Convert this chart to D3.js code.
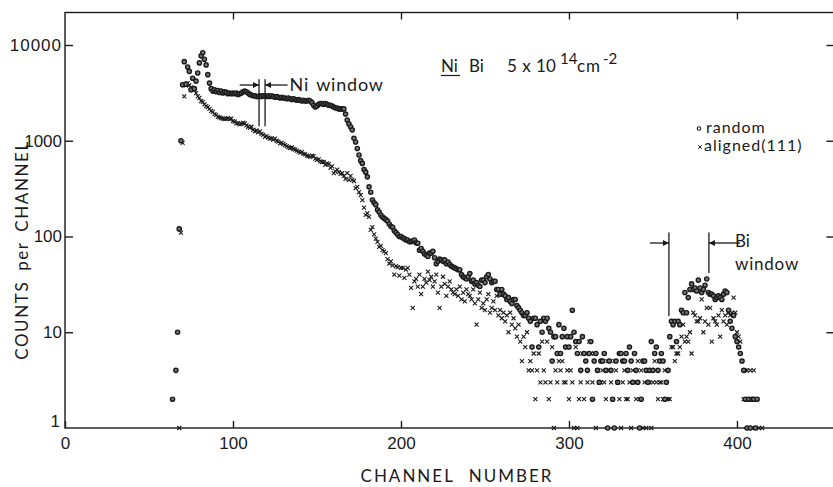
<!DOCTYPE html>
<html>
<head>
<meta charset="utf-8">
<script src="https://cdn.jsdelivr.net/npm/d3@7"></script>
<style>
  body { margin: 0; background: #fff; }
  svg { font-family: Lato, "DejaVu Sans", sans-serif; }
  text { fill: #1a1a1a; }
</style>
</head>
<body>
<svg id="chart" width="833" height="487"></svg>
<script>
// ---- data (counts per channel) ----
const randomFirstChannel = 64;
const randomCounts = [
  2, null, 4, 10, 120, 1000,
  3850, 6700, 3900, 5900, 5300, 3400, 4500, 3500, 4200, 5100,
  6500, 7700, 8300, 7100, 6200, 4900, 4000, 3500, 3300, 3400,
  3250, 3350, 3200, 3300, 3150, 3250, 3200, 3100, 3150, 3100,
  3150, 3100, 3150, 3050, 3100, 3150, 3250, 3300, 3250, 3150,
  3050, 3000, 2950, 2950, 2900, 2900, 2950, 2900, 2950, 2950,
  2900, 2950, 2900, 2950, 2900, 2850, 2900, 2850, 2800, 2850,
  2800, 2800, 2750, 2800, 2750, 2700, 2750, 2700, 2650, 2700,
  2650, 2600, 2650, 2600, 2600, 2650, 2600, 2500, 2350, 2250,
  2300, 2400, 2450, 2450, 2400, 2450, 2400, 2350, 2350, 2300,
  2250, 2200, 2200, 2150, 2150, 2150, 2150, 1900, 1650, 1500,
  1400, 1300, 1060, 970, 830, 710, 620, 580, 500, 470,
  420, 330, 290, 240, 225, 215, 190, 180, 168, 160,
  155, 150, 145, 135, 128, 125, 115, 110, 105, 100,
  100, 97, 95, 92, 92, 88, 88, 90, 92, 86,
  85, 72, 75, 70, 66, 64, 62, 67, 67, 70,
  60, 52, 55, 58, 57, 55, 57, 52, 54, 51,
  49, 48, 47, 46, 45, 45, 40, 38, 37, 36,
  38, 41, 34, 35, 32, 33, 31, 30, 35, 35,
  33, 38, 40, 36, 33, 34, 34, 28, 28, 25,
  28, 25, 24, 22, 23, 21, 20, 22, 22, 19,
  18, 17, 16, 15, 15, 16, 14, 13, 7, 14,
  14, 12, 7, 13, 10, 14, 13, 14, 11, 10,
  5, 9, 9, 6, 12, 6, 9, 11, 7, 9,
  7, 9, 17, 10, 8, 6, 8, 4, 9, 6,
  5, 4, 6, 8, 2, 5, 6, 4, 3, 5,
  5, 6, 4, 1, 5, 4, 2, 1, 5, 3,
  6, 6, 5, 5, 6, 4, 7, 5, 3, 6,
  4, 3, 1, 2, 5, 5, 4, 3, 4, 8,
  4, 6, 7, 4, 5, 6, 5, 2, 3, 4,
  9, 13, 12, 13, 8, 13, 12, 17, 16, 26,
  16, 23, 28, 32, 28, 29, 27, 35, 29, 26,
  28, 31, 36, 26, 25, 25, 24, 22, 23, 24,
  23, 22, 25, 27, 26, 17, 13, 11, 15, 9,
  8, 7, 6, 5, 4, 2, 1, 2, 1, 2,
  2, 1, 2
];

const alignedFirstChannel = 68;
const alignedCounts = [
  1, 110,
  950, 2900, 3800, 4000, 3800, 3600, 3500, 3400, 3150, 2900,
  2800, 2600, 2550, 2400, 2300, 2250, 2150, 2050, 2000, 1900,
  1850, 1780, 1750, 1720, 1700, 1680, 1700, 1720, 1680, 1700,
  1600, 1580, 1520, 1530, 1480, 1500, 1540, 1520, 1450, 1400,
  1360, 1400, 1300, 1250, 1280, 1220, 1250, 1180, 1150, 1100,
  1120, 1080, 1050, 1060, 1030, 1050, 1000, 980, 940, 950,
  920, 900, 880, 860, 840, 850, 820, 810, 790, 770,
  750, 760, 730, 720, 700, 690, 680, 700, 690, 650,
  630, 640, 610, 600, 600, 560, 580, 570, 520, 540,
  460, 480, 500, 470, 450, 460, 430, 400, 460, 390,
  430, 390, 380, 320, 330, 290, 270, 240, 200, 168,
  175, 160, 117, 125, 105, 95, 88, 78, 80, 72,
  70, 67, 58, 52, 55, 50, 40, 49, 48, 39,
  47, 47, 37, 45, 47, 40, 29, 18, 34, 36,
  30, 40, 25, 30, 36, 33, 43, 35, 38, 30,
  34, 40, 26, 18, 30, 38, 32, 24, 30, 34,
  28, 26, 25, 28, 24, 30, 22, 26, 21, 28,
  25, 24, 22, 28, 20, 12, 22, 26, 18, 20,
  17, 22, 25, 16, 18, 21, 17, 24, 15, 17,
  14, 16, 13, 15, 10, 16, 12, 14, 11, 9,
  12, 8, 5, 9, 7, 10, 4, 5, 4, 6,
  2, 4, 6, 3, 8, 4, 3, 8, 2, 3,
  7, 1, 4, 3, 5, 4, 5, 3, 3, 4,
  2, 4, 3, 1, 7, 1, 2, 3, 6, 2,
  6, 3, 8, 6, 3, 6, 1, 4, 3, 3,
  4, 3, 2, 5, 4, 3, 2, 5, 4, 3,
  2, 1, 3, 4, 2, 2, 3, 1, 4, 3,
  2, 5, 2, 4, 1, 3, 1, 4, 3, 1,
  3, 5, 3, 2, 3, 3, 2, 4, 2, 2,
  2, 7, 7, 5, 6, 6, 7, 9, 12, 8,
  9, 8, 10, 6, 16, 15, 13, 13, 14, 22,
  10, 13, 18, 12, 18, 8, 14, 13, 12, 15,
  9, 17, 13, 15, 12, 16, 15, 16, 23, 16,
  10, 9, 8, 5, 2, 4, 4, 1, 4, 2,
  4, 1, 2, 1, null, 1
];

const xTicks = [0, 100, 200, 300, 400];
const yTicks = [1, 10, 100, 1000, 10000];

// windows: [channel, top count, bottom count]
const niWindowLines = [[115.5, 4400, 1420], [119.1, 4400, 1420]];
const biWindowLines = [[359.5, 110, 14.8], [383.3, 110, 41.6]];

const svg = d3.select("#chart");
const ink = "#1a1a1a";

// ---- scales ----
const x = d3.scaleLinear().domain([0, 458]).range([65, 834.4]);
const y = d3.scaleLog().domain([1, 21850]).range([428, 12.5]);

const toPoints = (first, arr) => arr
  .map((v, i) => ({ c: first + i, v }))
  .filter(d => d.v != null);

const randomPts = toPoints(randomFirstChannel, randomCounts);
const alignedPts = toPoints(alignedFirstChannel, alignedCounts);

// ---- frame ----
svg.append("rect")
  .attr("x", x(0)).attr("y", y(21850))
  .attr("width", x(458) - x(0)).attr("height", y(1) - y(21850))
  .attr("fill", "none").attr("stroke", ink).attr("stroke-width", 1.4);

// ---- axes (inward ticks) ----
const styleAxis = g => {
  g.select(".domain").remove();
  g.selectAll("line").attr("stroke", ink).attr("stroke-width", 1.4);
  g.selectAll("text").attr("fill", ink).style("font-size", "17px");
};

svg.append("g")
  .attr("transform", `translate(0,${y(1)})`)
  .call(d3.axisBottom(x).tickValues(xTicks).tickSize(-7).tickPadding(9).tickFormat(d3.format("d")))
  .call(styleAxis);

svg.append("g")
  .attr("transform", `translate(0,${y(21850)})`)
  .call(d3.axisTop(x).tickValues(xTicks.slice(1)).tickSize(-7).tickFormat(""))
  .call(styleAxis);

const yAxis = svg.append("g")
  .attr("transform", `translate(${x(0)},0)`)
  .call(d3.axisLeft(y).tickValues(yTicks).tickSize(-8).tickPadding(3).tickFormat(d3.format("d")))
  .call(styleAxis);
yAxis.selectAll(".tick").filter(d => d === 1).select("line").remove();
yAxis.selectAll(".tick").filter(d => d === 1).select("text").attr("dy", "-0.1em").attr("x", -5);
yAxis.selectAll(".tick").filter(d => d === 10000).select("text").style("letter-spacing", "1px");

svg.append("g")
  .attr("transform", `translate(${x(458)},0)`)
  .call(d3.axisRight(y).tickValues(yTicks.slice(1)).tickSize(-8).tickFormat(""))
  .call(styleAxis);

// ---- axis titles ----
svg.append("text")
  .attr("x", 457).attr("y", 482)
  .attr("text-anchor", "middle")
  .style("font-size", "17px").style("letter-spacing", "2px").style("word-spacing", "8px")
  .text("CHANNEL NUMBER");

svg.append("text")
  .attr("transform", "translate(28,250) rotate(-90)")
  .attr("text-anchor", "middle")
  .style("font-size", "17px").style("letter-spacing", "1.6px").style("word-spacing", "4px")
  .text("COUNTS per CHANNEL");

// ---- data marks ----
const xMark = "M-2,-2L2,2M-2,2L2,-2";

svg.append("g").selectAll("path")
  .data(alignedPts)
  .join("path")
  .attr("transform", d => `translate(${x(d.c)},${y(d.v)})`)
  .attr("d", xMark)
  .attr("stroke", ink).attr("stroke-width", 1.1).attr("fill", "none");

svg.append("g").selectAll("circle")
  .data(randomPts)
  .join("circle")
  .attr("cx", d => x(d.c)).attr("cy", d => y(d.v))
  .attr("r", 2.1)
  .attr("fill", "#777").attr("stroke", ink).attr("stroke-width", 1.4);

// ---- window annotations ----
svg.append("defs").append("marker")
  .attr("id", "head").attr("viewBox", "0 0 10 10")
  .attr("refX", 10).attr("refY", 5)
  .attr("markerWidth", 7).attr("markerHeight", 6)
  .attr("markerUnits", "userSpaceOnUse")
  .attr("orient", "auto")
  .append("path").attr("d", "M0,0L10,5L0,10Z").attr("fill", ink);

const ann = svg.append("g").attr("stroke", ink).attr("stroke-width", 1.3);

ann.selectAll(".ni").data(niWindowLines).join("line")
  .attr("x1", d => x(d[0])).attr("x2", d => x(d[0]))
  .attr("y1", d => y(d[1])).attr("y2", d => y(d[2]));

ann.selectAll(".bi").data(biWindowLines).join("line")
  .attr("x1", d => x(d[0])).attr("x2", d => x(d[0]))
  .attr("y1", d => y(d[1])).attr("y2", d => y(d[2]));

const arrows = [
  [104, 115.5, 3820], [132.5, 119.1, 3820],
  [348.2, 359.5, 85.5], [401.8, 383.3, 85.5]
];
ann.selectAll(".arrow").data(arrows).join("line")
  .attr("x1", d => x(d[0])).attr("x2", d => x(d[1]))
  .attr("y1", d => y(d[2])).attr("y2", d => y(d[2]))
  .attr("marker-end", "url(#head)");

svg.append("text")
  .attr("x", x(132.5) + 2).attr("y", y(3820) + 6)
  .style("font-size", "18px").style("letter-spacing", "0.8px").style("word-spacing", "2px")
  .text("Ni window");

svg.append("text")
  .attr("x", x(401.8) - 5).attr("y", y(85.5) + 4)
  .style("font-size", "17px")
  .text("Bi");
svg.append("text")
  .attr("x", x(401.8) - 5).attr("y", y(85.5) + 27)
  .style("font-size", "17px").style("letter-spacing", "0.8px")
  .text("window");

// ---- sample label ----
const lbl = svg.append("g");
lbl.append("text").attr("x", 441).attr("y", 72).style("font-size", "17px").text("Ni");
lbl.append("line").attr("x1", 441).attr("x2", 460).attr("y1", 75.5).attr("y2", 75.5)
  .attr("stroke", ink).attr("stroke-width", 1.2);
lbl.append("text").attr("x", 469).attr("y", 72).style("font-size", "17px").text("Bi");
lbl.append("text").attr("x", 507).attr("y", 72).style("font-size", "17px").style("word-spacing", "1px").text("5 x 10");
lbl.append("text").attr("x", 560).attr("y", 64).style("font-size", "15px").text("14");
lbl.append("text").attr("x", 577).attr("y", 72).style("font-size", "17px").style("letter-spacing", "1px").text("cm");
lbl.append("text").attr("x", 603).attr("y", 64).style("font-size", "15px").text("-2");

// ---- legend ----
const legend = svg.append("g");
legend.append("circle").attr("cx", 699).attr("cy", 128.5).attr("r", 1.8)
  .attr("fill", "#fff").attr("stroke", ink).attr("stroke-width", 1.1);
legend.append("path").attr("transform", "translate(700,147)")
  .attr("d", "M-1.8,-1.8L1.8,1.8M-1.8,1.8L1.8,-1.8")
  .attr("stroke", ink).attr("stroke-width", 1);
legend.append("text").attr("x", 706).attr("y", 133)
  .style("font-size", "16px").style("letter-spacing", "1px").text("random");
legend.append("text").attr("x", 704).attr("y", 151)
  .style("font-size", "16px").style("letter-spacing", "1px").text("aligned(111)");
</script>
</body>
</html>
